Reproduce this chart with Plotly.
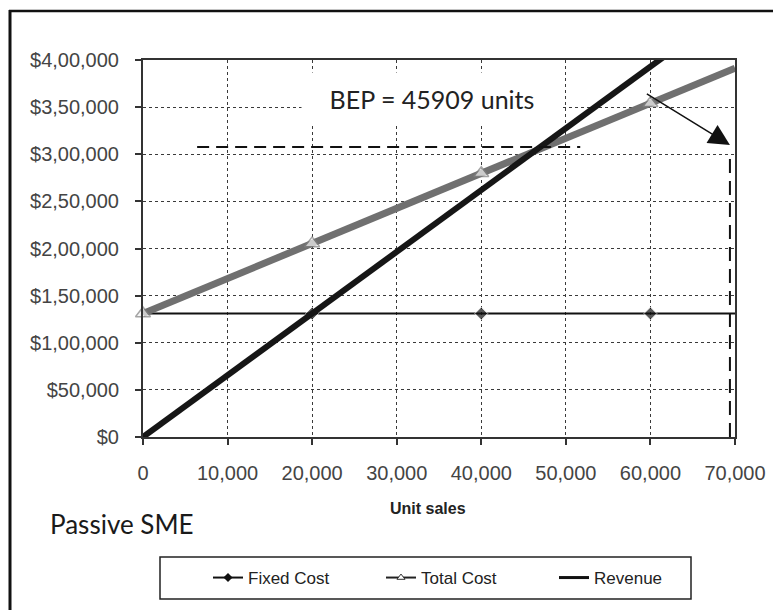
import plotly.graph_objects as go

# ---- data ----
units = [0, 20000, 40000, 60000, 70000]
fixed_cost = [131000, 131000, 131000, 131000, 131000]
total_cost = [131000, 205400, 279800, 354200, 391400]
revenue = [0, 131000, 262000, 393000, 458500]

x_tickvals = [0, 10000, 20000, 30000, 40000, 50000, 60000, 70000]
x_ticktext = ["0", "10,000", "20,000", "30,000", "40,000", "50,000", "60,000", "70,000"]
y_tickvals = [0, 50000, 100000, 150000, 200000, 250000, 300000, 350000, 400000]
y_ticktext = ["$0", "$50,000", "$1,00,000", "$1,50,000", "$2,00,000", "$2,50,000",
              "$3,00,000", "$3,50,000", "$4,00,000"]
series_names = ["Fixed Cost", "Total Cost", "Revenue"]

bep_label = "BEP = 45909 units"
title_text = "Passive SME"
x_title = "Unit sales"

W, H = 773, 610
L, R, T, B = 143, 38, 60, 173
pw, ph = W - L - R, H - T - B


def px(xp):
    return (xp - L) / pw


def py(yp):
    return (H - B - yp) / ph


fig = go.Figure()
fig.add_trace(go.Scatter(
    x=units, y=fixed_cost, name=series_names[0], mode="lines+markers", showlegend=False,
    line=dict(color="#111111", width=2),
    marker=dict(symbol="diamond", size=[0, 10, 10, 10, 0], color="#111111"),
    cliponaxis=False,
))
fig.add_trace(go.Scatter(
    x=units, y=total_cost, name=series_names[1], mode="lines+markers", showlegend=False,
    line=dict(color="#707070", width=7),
    marker=dict(symbol="triangle-up", size=[13, 13, 13, 13, 0], color="#f4f4f4",
                line=dict(color="#808080", width=1.5)),
    cliponaxis=False,
))
fig.add_trace(go.Scatter(
    x=units, y=revenue, name=series_names[2], mode="lines", showlegend=False,
    line=dict(color="#161616", width=6),
))

# legend entries (Excel-style thin keys)
fig.add_trace(go.Scatter(x=[None], y=[None], name=series_names[0], mode="lines+markers",
                         line=dict(color="#111", width=2),
                         marker=dict(symbol="diamond", size=7, color="#111")))
fig.add_trace(go.Scatter(x=[None], y=[None], name=series_names[1], mode="lines+markers",
                         line=dict(color="#222", width=2),
                         marker=dict(symbol="triangle-up", size=7, color="white",
                                     line=dict(color="#333", width=1))))
fig.add_trace(go.Scatter(x=[None], y=[None], name=series_names[2], mode="lines",
                         line=dict(color="#111", width=3)))

grid = dict(showgrid=True, gridcolor="#3a3a3a", gridwidth=1.2, griddash="dot")
tickfont = dict(family="Liberation Sans", size=20, color="#444")
fig.update_xaxes(range=[0, 70000], tickvals=x_tickvals, ticktext=x_ticktext,
                 ticks="outside", ticklen=6, tickcolor="#333", tickwidth=1.5,
                 showline=True, linecolor="#333", linewidth=2, mirror=True,
                 tickfont=tickfont, ticklabelstandoff=11, zeroline=False, **grid)
fig.update_yaxes(range=[0, 400000], tickvals=y_tickvals, ticktext=y_ticktext,
                 ticks="outside", ticklen=6, tickcolor="#333", tickwidth=1.5,
                 showline=True, linecolor="#333", linewidth=2, mirror=True,
                 tickfont=tickfont, ticklabelstandoff=12, zeroline=False, **grid)

# dashed guide lines
fig.add_shape(type="line", xref="x", yref="y", x0=6400, x1=51700, y0=307700, y1=307700,
              line=dict(color="#111", width=2, dash="12px,7px"))
fig.add_shape(type="line", xref="x", yref="y", x0=69400, x1=69400, y0=0, y1=302000,
              line=dict(color="#111", width=2, dash="14px,8px"))

# outer frame (left and top)
fig.add_shape(type="line", xref="paper", yref="paper", x0=px(10), x1=px(10), y0=py(615), y1=py(10),
              line=dict(color="#111", width=3))
fig.add_shape(type="line", xref="paper", yref="paper", x0=px(9), x1=px(780), y0=py(11), y1=py(11),
              line=dict(color="#111", width=2.5))

# legend box
fig.add_shape(type="rect", xref="paper", yref="paper", x0=px(160), x1=px(691), y0=py(599), y1=py(557),
              line=dict(color="#222", width=1.5), fillcolor="white", layer="below")

# BEP label
fig.add_annotation(x=34200, y=358600, xref="x", yref="y", text=bep_label, showarrow=False,
                   font=dict(family="Lato", size=25, color="#222"),
                   bgcolor="white", width=258, height=50)
# arrow
fig.add_annotation(x=69400, y=309800, xref="x", yref="y", ax=59400, ay=365000,
                   axref="x", ayref="y", text="", showarrow=True,
                   arrowhead=2, arrowsize=2.8, arrowwidth=1.5, arrowcolor="#111")

# x axis title and chart label
fig.add_annotation(x=px(428), y=py(508), xref="paper", yref="paper", text="<b>" + x_title + "</b>",
                   xanchor="center", yanchor="middle",
                   showarrow=False, font=dict(family="Liberation Sans", size=16, color="#222"))
fig.add_annotation(x=px(48), y=py(524), xref="paper", yref="paper", text=title_text,
                   xanchor="left", yanchor="middle", showarrow=False,
                   font=dict(family="Lato", size=26, color="#1a1a1a"))

fig.update_layout(
    width=W, height=H, margin=dict(l=L, r=R, t=T, b=B, autoexpand=False),
    paper_bgcolor="white", plot_bgcolor="white",
    showlegend=True,
    legend=dict(orientation="h", x=px(208), y=py(578), xanchor="left", yanchor="middle",
                borderwidth=0, bgcolor="rgba(0,0,0,0)",
                entrywidth=128, entrywidthmode="pixels",
                font=dict(family="Liberation Sans", size=17, color="#222")),
)

fig.write_html("out.html")
